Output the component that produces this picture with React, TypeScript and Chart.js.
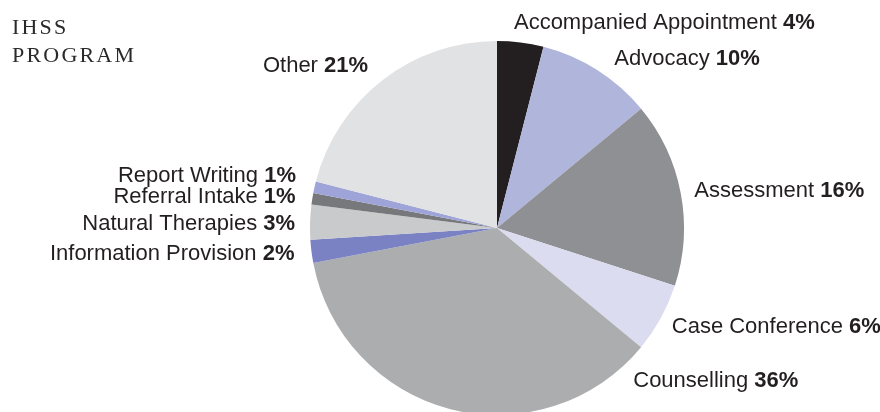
import React, { useEffect, useRef } from "react";
import { Chart, registerables } from "chart.js";

Chart.register(...registerables);

const CATEGORIES = [
  "Accompanied Appointment",
  "Advocacy",
  "Assessment",
  "Case Conference",
  "Counselling",
  "Information Provision",
  "Natural Therapies",
  "Referral Intake",
  "Report Writing",
  "Other",
];
const PERCENTAGES = [4, 10, 16, 6, 36, 2, 3, 1, 1, 21];
const COLORS = [
  "#231f20",
  "#b0b5dc",
  "#8f9094",
  "#dcdcf0",
  "#acadaf",
  "#7a82c4",
  "#c9cacc",
  "#77787b",
  "#9fa4d8",
  "#e1e2e4",
];
const TITLE_LINES = ["IHSS", "PROGRAM"];

// label placement relative to each slice (degrees shift from mid-angle, distance from centre)
const LABEL_ANGLE_SHIFT = [-2.5, 2.1, -0.2, 0.3, -56.3, 0.3, -0.2, 0.2, 2.3, -0.5];
const LABEL_DISTANCE = [207, 207, 201, 200, 204, 204, 202, 204, 208, 208];

const TEXT_COLOR = "#231f20";
const LABEL_FONT = '"Liberation Sans", Arial, sans-serif';
const LABEL_SIZE = 22;

const labelPlugin = {
  id: "sliceLabels",
  afterDraw(chart: any) {
    const ctx = chart.ctx as CanvasRenderingContext2D;
    const meta = chart.getDatasetMeta(0);
    ctx.save();
    // Title
    ctx.fillStyle = "#2a2a2a";
    ctx.font = '22px "Liberation Serif", "Times New Roman", serif';
    (ctx as any).letterSpacing = "2.2px";
    ctx.textAlign = "left";
    ctx.textBaseline = "alphabetic";
    TITLE_LINES.forEach((line, i) => {
      ctx.fillText(line, 12, 34 + i * 28);
    });
    (ctx as any).letterSpacing = "0px";

    meta.data.forEach((arc: any, i: number) => {
      const p = arc.getProps(["x", "y", "startAngle", "endAngle", "outerRadius"], true);
      const mid = (p.startAngle + p.endAngle) / 2 + (LABEL_ANGLE_SHIFT[i] * Math.PI) / 180;
      const d = LABEL_DISTANCE[i];
      const ax = p.x + Math.cos(mid) * d;
      const ay = p.y + Math.sin(mid) * d;
      const name = CATEGORIES[i] + " ";
      const pct = PERCENTAGES[i] + "%";
      ctx.font = `${LABEL_SIZE}px ${LABEL_FONT}`;
      const wName = ctx.measureText(name).width;
      ctx.font = `bold ${LABEL_SIZE}px ${LABEL_FONT}`;
      const wPct = ctx.measureText(pct).width;
      const total = wName + wPct;
      const startX = Math.cos(mid) >= 0 ? ax : ax - total;
      const baseY = ay + 7.5;
      ctx.textAlign = "left";
      ctx.fillStyle = TEXT_COLOR;
      ctx.font = `${LABEL_SIZE}px ${LABEL_FONT}`;
      ctx.fillText(name, startX, baseY);
      ctx.font = `bold ${LABEL_SIZE}px ${LABEL_FONT}`;
      ctx.fillText(pct, startX + wName, baseY);
    });
    ctx.restore();
  },
};

export default function App() {
  const ref = useRef<HTMLCanvasElement | null>(null);
  useEffect(() => {
    document.body.style.margin = "0";
    const canvas = ref.current!;
    const chart = new Chart(canvas, {
      type: "pie",
      data: {
        labels: CATEGORIES,
        datasets: [
          {
            data: PERCENTAGES,
            backgroundColor: COLORS,
            borderWidth: 0,
          },
        ],
      },
      options: {
        responsive: false,
        animation: false,
        layout: { padding: { left: 310, right: 196, top: 41, bottom: 5 } },
        plugins: {
          legend: { display: false },
          tooltip: { enabled: false },
        },
      },
      plugins: [labelPlugin],
    });
    return () => chart.destroy();
  }, []);
  return (
    <div
      style={{
        position: "absolute",
        left: 0,
        top: 0,
        width: 880,
        height: 412,
        overflow: "hidden",
        background: "#ffffff",
      }}
    >
      <canvas ref={ref} width={880} height={420} style={{ display: "block" }} />
    </div>
  );
}
